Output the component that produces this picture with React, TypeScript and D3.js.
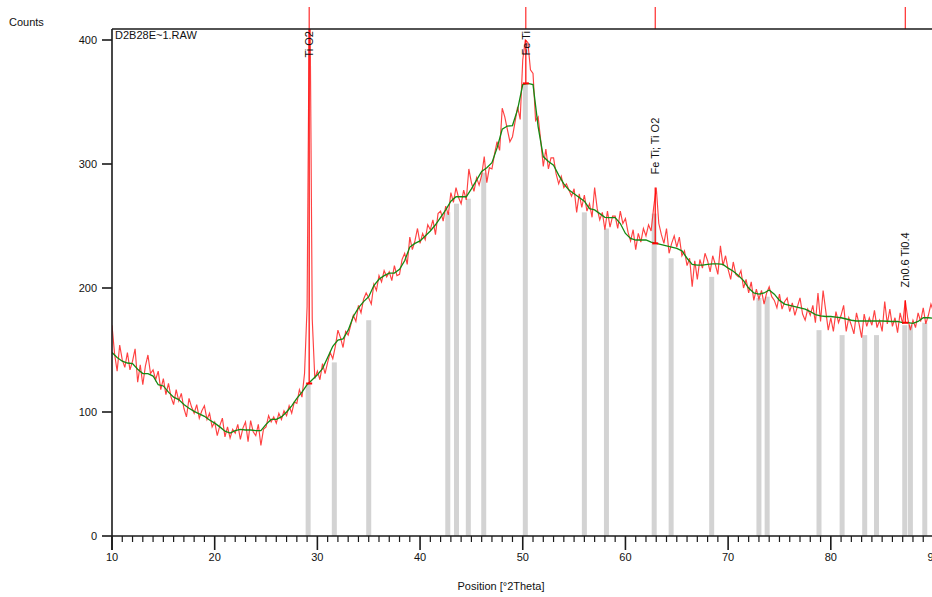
import React from 'react';
import * as d3 from 'd3';

// ---- data ----
const xMajorTicks = [10, 20, 30, 40, 50, 60, 70, 80, 90];
const yTicks = [0, 100, 200, 300, 400];
const fileName = 'D2B28E~1.RAW';

const rawStart = 10;
const rawStep = 0.25;
const rawCounts = [
  170, 147, 133, 154, 142, 136, 148, 134, 141, 151, 124, 138, 122, 137, 146, 131,
  134, 126, 133, 118, 127, 114, 123, 112, 106, 118, 109, 115, 103, 96, 111, 104,
  99, 106, 95, 101, 105, 94, 99, 88, 92, 81, 89, 95, 80, 88, 79, 86,
  83, 90, 78, 87, 92, 76, 93, 84, 81, 90, 73, 86, 88, 97, 92, 96,
  91, 99, 94, 101, 97, 105, 99, 108, 107, 118, 112, 131, 185, 470, 175, 127,
  133, 126, 139, 131, 140, 148, 143, 153, 166, 160, 152, 165, 162, 170, 178, 173,
  186, 180, 191, 196, 192, 187, 203, 198, 210, 205, 214, 209, 213, 206, 218, 210,
  211, 223, 228, 219, 241, 231, 238, 248, 236, 244, 239, 251, 247, 255, 243, 260,
  262, 254, 266, 259, 277, 269, 281, 273, 268, 279, 271, 296, 285, 278, 289, 283,
  291, 306, 285, 297, 296, 308, 318, 311, 345, 338, 328, 318, 322, 334, 346, 336,
  384, 400, 398, 376, 373, 335, 338, 319, 298, 312, 296, 305, 305, 292, 284, 290,
  281, 284, 279, 274, 280, 261, 276, 265, 275, 262, 268, 257, 281, 264, 255, 261,
  247, 262, 249, 258, 258, 248, 262, 252, 256, 245, 238, 247, 231, 244, 237, 248,
  242, 251, 246, 265, 281, 252, 243, 236, 248, 228, 236, 242, 233, 241, 226, 230,
  218, 224, 201, 222, 207, 223, 216, 228, 222, 213, 226, 219, 211, 234, 218, 226,
  215, 207, 221, 211, 209, 214, 200, 207, 196, 205, 190, 199, 191, 198, 187, 196,
  201, 193, 190, 184, 195, 183, 189, 192, 181, 188, 178, 185, 192, 179, 174, 183,
  178, 186, 172, 196, 173, 198, 182, 166, 176, 165, 181, 172, 178, 186, 165, 176,
  170, 163, 180, 171, 160, 179, 169, 176, 170, 182, 168, 174, 165, 189, 171, 183,
  169, 176, 164, 180, 171, 190, 175, 166, 174, 168, 180, 173, 184, 171, 178, 187,
  181,
];

const bgStart = 10;
const bgStep = 0.5;
const bgCounts = [
  148, 144, 141, 139.5, 139, 134.5, 131, 131, 129, 122,
  121, 116, 112, 110, 106, 103, 100.5, 98.5, 96.5, 93.5,
  91, 88, 84.5, 83, 85, 86, 85.5, 85.5, 85, 85,
  90, 94, 94, 96, 100, 105, 111, 116, 122, 126,
  130, 135, 144, 153, 158, 159, 166, 177, 184, 189,
  193, 202, 207, 210, 212, 212, 215, 222, 233, 236,
  238, 242, 246, 251, 257, 263, 270, 273.6, 273.6, 273.6,
  280, 287, 294, 297, 301, 313, 328, 330.6, 331, 344,
  364, 365, 364, 330, 306, 302, 299, 291, 284, 279,
  276, 273, 270, 264, 263, 260, 257, 256.7, 256.7, 252,
  244, 240, 238.7, 238.7, 238.7, 237, 236, 235, 234, 233,
  232, 230, 224, 219, 218.5, 218.5, 219, 219.4, 219.4, 219,
  216, 213.5, 210, 206, 200, 196, 195, 196, 198.4, 195,
  190, 187, 186, 185, 184, 183, 181, 178.5, 177.5, 177,
  177, 176.5, 176, 175, 174, 173.4, 173.4, 173.4, 173.4, 173.4,
  173.4, 173.2, 173, 173, 172, 172, 171.5, 173, 176, 176,
  175.6,
];

const refPositions = [29.1, 31.65, 35.0, 42.7, 43.55, 44.7, 46.2, 50.25, 56.0, 58.15, 62.8,
  64.45, 68.4, 73.0, 73.8, 78.85, 81.1, 83.3, 84.45, 87.2, 87.75, 89.15];
const refHeights = [123, 140, 174, 261, 268, 272, 293, 365, 261, 248, 260,
  224, 209, 192, 193, 166, 162, 162, 162, 170, 170, 172];

const peakPositions = [29.2, 50.3, 62.9, 87.25];
const peakTops = [470, 400, 281, 190];
const peakBackgrounds = [123, 365, 236, 172];
const peakLabels = ['Ti O2', 'Fe Ti', 'Fe Ti; Ti O2', 'Zn0.6 Ti0.4'];

// ---- layout ----
const W = 932;
const H = 597;
const left = 112;
const right = 933.5;
const plotTop = 29;
const font = 'Liberation Sans, Arial, sans-serif';

export default function App() {
  const x = d3.scaleLinear().domain([10, 90]).range([left, right]);
  const y = d3.scaleLinear().domain([0, 400]).range([536, 40]);
  const y0 = y(0);

  const rawPts: [number, number][] = rawCounts.map((c, i) => [rawStart + i * rawStep, c]);
  const bgPts: [number, number][] = bgCounts.map((c, i) => [bgStart + i * bgStep, c]);
  const line = d3.line<[number, number]>().x(d => x(d[0])).y(d => y(d[1]));

  const minorTicks = d3.range(11, 90).filter(v => v % 10 !== 0);

  return (
    <svg width={W} height={H} style={{ position: 'absolute', left: 0, top: 0, background: '#fff' }}
      fontFamily={font}>
      <defs>
        <clipPath id="plotClip">
          <rect x={left} y={plotTop} width={W - left} height={y0 - plotTop} />
        </clipPath>
      </defs>

      {/* reference bars */}
      <g fill="#d3d3d3">
        {refPositions.map((p, i) => (
          <rect key={i} x={x(p) - 2.5} y={y(refHeights[i])} width={5} height={y0 - y(refHeights[i])} />
        ))}
      </g>

      <g clipPath="url(#plotClip)">
        <path d={line(rawPts) || ''} fill="none" stroke="#ff2020" strokeOpacity={0.85} strokeWidth={1.15} />
        <path d={line(bgPts) || ''} fill="none" stroke="#138a13" strokeWidth={1.3} />
        {peakPositions.map((p, i) => (
          <g key={i} stroke="#ff0000" strokeWidth={1.2}>
            <line x1={x(p)} x2={x(p)} y1={y(peakTops[i])} y2={y(peakBackgrounds[i])} />
            <line x1={x(p) - 3} x2={x(p) + 3} y1={y(peakBackgrounds[i])} y2={y(peakBackgrounds[i])} strokeWidth={2} />
          </g>
        ))}
      </g>

      {/* peak markers above frame */}
      <g stroke="#ff0000" strokeWidth={1}>
        {peakPositions.map((p, i) => (
          <line key={i} x1={x(p)} x2={x(p)} y1={7} y2={plotTop} />
        ))}
      </g>

      {/* peak labels */}
      <g fontSize={11} fill="#111">
        {peakLabels.map((lab, i) => {
          const est = lab.length * 4.7;
          const yStart = y(peakTops[i]) - 13;
          const clamped = yStart - est < 31;
          const ty = clamped ? 31 : yStart;
          return (
            <text key={i} transform={`translate(${x(peakPositions[i])},${ty}) rotate(-90)`}
              textAnchor={clamped ? 'end' : 'start'} dy="0.35em">{lab}</text>
          );
        })}
      </g>

      {/* frame / axes */}
      <g stroke="#1a1a1a" strokeWidth={1.6} fill="none">
        <line x1={left} x2={W} y1={plotTop} y2={plotTop} />
        <line x1={left} x2={left} y1={plotTop} y2={550} />
        <line x1={left} x2={W} y1={y0} y2={y0} />
        {yTicks.map(t => (
          <line key={t} x1={left - 10} x2={left} y1={y(t)} y2={y(t)} />
        ))}
        {xMajorTicks.map(t => (
          <line key={t} x1={x(t)} x2={x(t)} y1={y0} y2={550} />
        ))}
        {minorTicks.map(t => (
          <line key={t} x1={x(t)} x2={x(t)} y1={y0} y2={y0 + 6} strokeWidth={1.2} />
        ))}
      </g>

      <g fontSize={11} fill="#111">
        {yTicks.map(t => (
          <text key={t} x={97} y={y(t)} dy="0.35em" textAnchor="end">{t}</text>
        ))}
        {xMajorTicks.map(t => (
          <text key={t} x={x(t)} y={561} textAnchor="middle">{t}</text>
        ))}
        <text x={9} y={26}>Counts</text>
        <text x={501} y={590} textAnchor="middle">Position [°2Theta]</text>
        <text x={115} y={39}>{fileName}</text>
      </g>
    </svg>
  );
}
